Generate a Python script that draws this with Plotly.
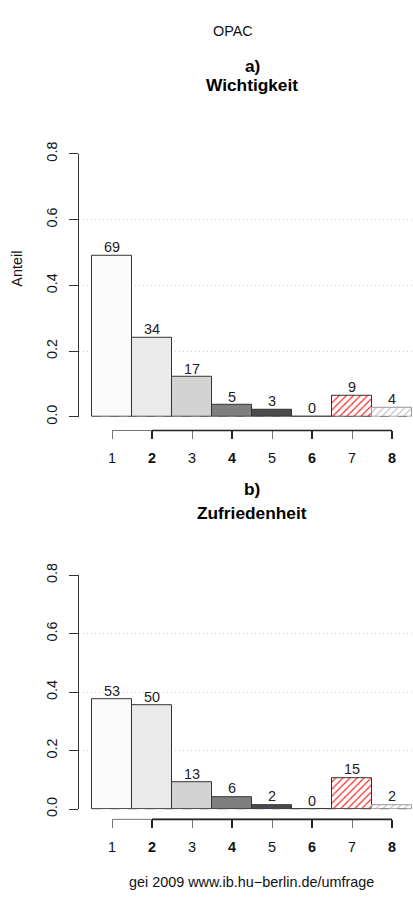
import plotly.graph_objects as go

# ---------------- data ----------------
categories = [1, 2, 3, 4, 5, 6, 7, 8]
counts_wichtigkeit = [69, 34, 17, 5, 3, 0, 9, 4]
counts_zufriedenheit = [53, 50, 13, 6, 2, 0, 15, 2]
y_ticks = [0.0, 0.2, 0.4, 0.6, 0.8]
y_ticktext = ["0.0", "0.2", "0.4", "0.6", "0.8"]
odd_labels = ["1", "3", "5", "7"]
even_labels = ["2", "4", "6", "8"]

panel_titles = [("a)", "Wichtigkeit"), ("b)", "Zufriedenheit")]
main_title = "OPAC"
footer = "gei 2009 www.ib.hu\u2212berlin.de/umfrage"
y_title = "Anteil"

# ---------------- style ----------------
W, H = 413, 900
FONT = "Liberation Sans, Arial, Helvetica, sans-serif"
FS = 14.4
bar_fill = ["#fafafa", "#eaeaea", "#d3d3d3", "#7f7f7f", "#4a4a4a", "#1a1a1a", "white", "white"]
bar_line = ["#333333"] * 7 + ["#9a9a9a"]
hatch_color = [None] * 6 + ["#ff2020", "#c0c0c0"]   # None = solid fill


def py(p):
    return 1 - p / H


def px(p):
    return p / W


odd_cats = [c for c in categories if c % 2 == 1]
even_cats = [c for c in categories if c % 2 == 0]

# panel geometry (pixels): y of value 0, y of value 0.8, y of x-axis line, title rows
panels = [
    dict(y0=414.0, y08=145.0, xline=428.0, t1=55, t2=75),
    dict(y0=815.3, y08=576.0, xline=825.7, t1=488, t2=512),
]
x_left_px = 79.0
xrange_ = [0.175, 8.525]

fig = go.Figure()
shapes = []
annotations = []

for i, (counts, pan) in enumerate(zip([counts_wichtigkeit, counts_zufriedenheit], panels)):
    total = sum(counts)
    props = [c / total for c in counts]
    xa = "x" if i == 0 else "x2"
    xa_even = "x3" if i == 0 else "x4"
    ya = "y" if i == 0 else "y2"
    solid = [k for k in range(len(categories)) if hatch_color[k] is None]
    fig.add_trace(go.Bar(
        x=[categories[k] for k in solid], y=[props[k] for k in solid], width=1.0,
        xaxis=xa, yaxis=ya,
        marker=dict(color=[bar_fill[k] for k in solid],
                    line=dict(color=[bar_line[k] for k in solid], width=1)),
        showlegend=False, hoverinfo="skip",
    ))
    for k in range(len(categories)):
        if hatch_color[k] is None:
            continue
        fig.add_trace(go.Bar(
            x=[categories[k]], y=[props[k]], width=1.0, xaxis=xa, yaxis=ya,
            marker=dict(color=bar_fill[k], line=dict(color=bar_line[k], width=1),
                        pattern=dict(shape="/", fgcolor=hatch_color[k], bgcolor="white",
                                     size=5, solidity=0.22, fillmode="replace")),
            showlegend=False, hoverinfo="skip",
        ))
    fig.add_trace(go.Scatter(
        x=categories, y=props, xaxis=xa_even, yaxis=ya, mode="text",
        text=[str(c) for c in counts], textposition="top center",
        textfont=dict(family=FONT, size=FS, color="#222"),
        showlegend=False, hoverinfo="skip", cliponaxis=False,
    ))
    # dashed baseline along the bar bottoms
    shapes.append(dict(type="line", xref=xa, yref=ya,
                       x0=min(categories) - 0.5, x1=max(categories) + 0.5, y0=0, y1=0,
                       line=dict(color="#555", width=1, dash="dash")))
    # x axis lines (odd set grey, even set black), like two R axis() calls
    yl = py(pan["xline"])
    shapes.append(dict(type="line", xref=xa, yref="paper", x0=min(odd_cats), x1=max(odd_cats),
                       y0=yl, y1=yl, line=dict(color="#777", width=1)))
    shapes.append(dict(type="line", xref=xa, yref="paper", x0=min(even_cats), x1=max(even_cats),
                       y0=yl, y1=yl, line=dict(color="#222", width=1.6)))
    annotations.append(dict(text="<b>%s</b>" % panel_titles[i][0], xref="paper", yref="paper",
                            x=px(252), y=py(pan["t1"]), showarrow=False, yanchor="middle",
                            font=dict(family=FONT, size=17.3, color="black")))
    annotations.append(dict(text="<b>%s</b>" % panel_titles[i][1], xref="paper", yref="paper",
                            x=px(252), y=py(pan["t2"]), showarrow=False, yanchor="middle",
                            font=dict(family=FONT, size=17.3, color="black")))

annotations.append(dict(text=main_title, xref="paper", yref="paper", x=px(233), y=py(19),
                        showarrow=False, yanchor="middle", font=dict(family=FONT, size=FS, color="#111")))
annotations.append(dict(text=y_title, xref="paper", yref="paper", x=px(17.5), y=py(263),
                        showarrow=False, textangle=-90, xanchor="center", yanchor="middle",
                        font=dict(family=FONT, size=FS, color="#111")))
annotations.append(dict(text=footer, xref="paper", yref="paper", x=px(251.5), y=py(890),
                        showarrow=False, yanchor="middle", font=dict(family=FONT, size=FS, color="#111")))


def yaxis_cfg(pan, anchor):
    return dict(range=[0, 0.8], domain=[py(pan["y0"]), py(pan["y08"])], anchor=anchor,
                tickvals=y_ticks, ticktext=y_ticktext, tickangle=-90,
                ticks="outside", ticklen=9, tickcolor="#333", tickwidth=1,
                showline=True, linecolor="#333", linewidth=1,
                showgrid=True, gridcolor="#cfcfcf", griddash="1px,3px", gridwidth=1,
                zeroline=False, ticklabelstandoff=6,
                tickfont=dict(family=FONT, size=FS, color="#111"), fixedrange=True)


def xaxis_cfg(pan, vals, labels, color, width, bold, overlay=None):
    d = dict(range=xrange_, domain=[px(x_left_px), 1.0], anchor="free",
             position=py(pan["xline"]), tickvals=vals,
             ticktext=["<b>%s</b>" % l if bold else l for l in labels],
             ticks="outside", ticklen=8, tickcolor=color, tickwidth=width,
             showline=False, showgrid=False, zeroline=False, ticklabelstandoff=6,
             tickfont=dict(family=FONT, size=FS, color="#111"), fixedrange=True)
    if overlay:
        d["overlaying"] = overlay
    return d


fig.update_layout(
    width=W, height=H, margin=dict(l=0, r=0, t=0, b=0),
    paper_bgcolor="white", plot_bgcolor="rgba(0,0,0,0)", bargap=0, barmode="overlay",
    xaxis=xaxis_cfg(panels[0], odd_cats, odd_labels, "#777", 1, False),
    yaxis=yaxis_cfg(panels[0], "x"),
    xaxis2=xaxis_cfg(panels[1], odd_cats, odd_labels, "#777", 1, False),
    yaxis2=yaxis_cfg(panels[1], "x2"),
    xaxis3=xaxis_cfg(panels[0], even_cats, even_labels, "#222", 1.6, True, overlay="x"),
    xaxis4=xaxis_cfg(panels[1], even_cats, even_labels, "#222", 1.6, True, overlay="x2"),
    shapes=shapes, annotations=annotations,
)

post = (
    "document.body.style.margin='0';document.body.style.overflow='hidden';"
    "document.documentElement.style.overflow='hidden';"
)
fig.write_html("out.html", config={"responsive": False, "displayModeBar": False},
               post_script=post)
